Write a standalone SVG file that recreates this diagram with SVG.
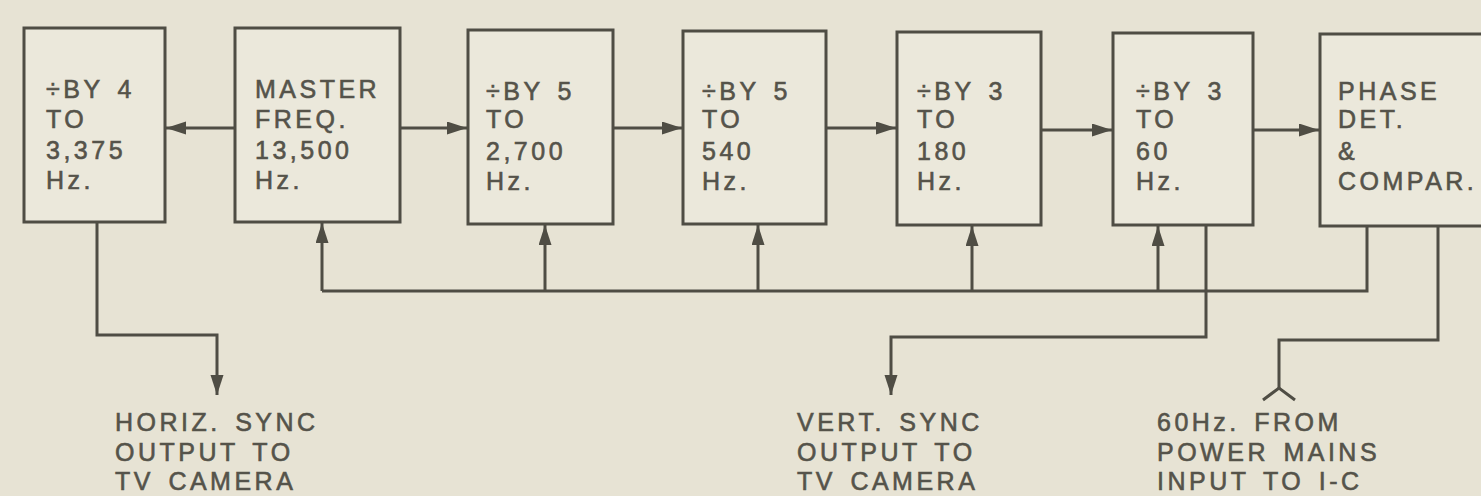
<svg xmlns="http://www.w3.org/2000/svg" width="1481" height="496" viewBox="0 0 1481 496">
<defs>
<style>
.box{fill:#ebe8db;stroke:#4f4d44;stroke-width:3}
.t{font-family:"Liberation Sans",Arial,sans-serif;font-size:25px;fill:#55534a;stroke:#55534a;stroke-width:0.6px;letter-spacing:3.5px;word-spacing:4px}
.w{fill:none;stroke:#4f4d44;stroke-width:3}
</style>
<marker id="ah" markerUnits="userSpaceOnUse" markerWidth="22" markerHeight="14" refX="20" refY="6.5" orient="auto">
<path d="M0,0 L20,6.5 L0,13 z" fill="#4f4d44"/>
</marker>
</defs>
<rect width="1481" height="496" fill="#e7e3d4"/>
<g id="n1"><rect class="box" x="24" y="28" width="141" height="194"/>
<text class="t"><tspan x="46" y="98">÷BY 4</tspan><tspan x="46" y="128">TO</tspan><tspan x="46" y="159">3,375</tspan><tspan x="46" y="189">Hz.</tspan></text></g>
<g id="n2"><rect class="box" x="235" y="28" width="165" height="194"/>
<text class="t"><tspan x="255" y="98">MASTER</tspan><tspan x="255" y="128">FREQ.</tspan><tspan x="255" y="159">13,500</tspan><tspan x="255" y="189">Hz.</tspan></text></g>
<g id="n3"><rect class="box" x="468" y="30" width="145" height="194"/>
<text class="t"><tspan x="486" y="100">÷BY 5</tspan><tspan x="486" y="128">TO</tspan><tspan x="486" y="160">2,700</tspan><tspan x="486" y="190">Hz.</tspan></text></g>
<g id="n4"><rect class="box" x="683" y="31" width="143" height="193"/>
<text class="t"><tspan x="702" y="100">÷BY 5</tspan><tspan x="702" y="128">TO</tspan><tspan x="702" y="160">540</tspan><tspan x="702" y="190">Hz.</tspan></text></g>
<g id="n5"><rect class="box" x="897" y="32" width="144" height="193"/>
<text class="t"><tspan x="917" y="100">÷BY 3</tspan><tspan x="917" y="128">TO</tspan><tspan x="917" y="160">180</tspan><tspan x="917" y="190">Hz.</tspan></text></g>
<g id="n6"><rect class="box" x="1113" y="33" width="140" height="192"/>
<text class="t"><tspan x="1136" y="100">÷BY 3</tspan><tspan x="1136" y="128">TO</tspan><tspan x="1136" y="160">60</tspan><tspan x="1136" y="190">Hz.</tspan></text></g>
<g id="n7"><rect class="box" x="1320" y="34" width="175" height="192"/>
<text class="t"><tspan x="1338" y="100">PHASE</tspan><tspan x="1338" y="128">DET.</tspan><tspan x="1338" y="160">&amp;</tspan><tspan x="1338" y="190">COMPAR.</tspan></text></g>
<g id="labels">
<text class="t"><tspan x="115" y="431">HORIZ. SYNC</tspan><tspan x="115" y="461">OUTPUT TO</tspan><tspan x="115" y="490">TV CAMERA</tspan></text>
<text class="t"><tspan x="797" y="431">VERT. SYNC</tspan><tspan x="797" y="461">OUTPUT TO</tspan><tspan x="797" y="490">TV CAMERA</tspan></text>
<text class="t"><tspan x="1157" y="431">60Hz. FROM</tspan><tspan x="1157" y="461">POWER MAINS</tspan><tspan x="1157" y="490">INPUT TO I-C</tspan></text>
</g>
<g id="connectors">
<line class="w" x1="235" y1="128" x2="166" y2="128" marker-end="url(#ah)"/>
<line class="w" x1="400" y1="128" x2="467" y2="128" marker-end="url(#ah)"/>
<line class="w" x1="613" y1="128" x2="682" y2="128" marker-end="url(#ah)"/>
<line class="w" x1="826" y1="128" x2="896" y2="128" marker-end="url(#ah)"/>
<line class="w" x1="1041" y1="130" x2="1112" y2="130" marker-end="url(#ah)"/>
<line class="w" x1="1253" y1="130" x2="1319" y2="130" marker-end="url(#ah)"/>
<polyline class="w" points="322,291 1367,291 1367,226"/>
<line class="w" x1="322" y1="291" x2="322" y2="223" marker-end="url(#ah)"/>
<line class="w" x1="545" y1="291" x2="545" y2="225" marker-end="url(#ah)"/>
<line class="w" x1="758" y1="291" x2="758" y2="225" marker-end="url(#ah)"/>
<line class="w" x1="972" y1="291" x2="972" y2="226" marker-end="url(#ah)"/>
<line class="w" x1="1158" y1="291" x2="1158" y2="226" marker-end="url(#ah)"/>
<polyline class="w" points="97,222 97,335 217,335 217,395" marker-end="url(#ah)"/>
<polyline class="w" points="1206,225 1206,337 891,337 891,395" marker-end="url(#ah)"/>
<polyline class="w" points="1438,226 1438,340 1279,340 1279,388"/>
<polyline class="w" points="1263,400 1279,388 1295,400"/>
</g>
</svg>
